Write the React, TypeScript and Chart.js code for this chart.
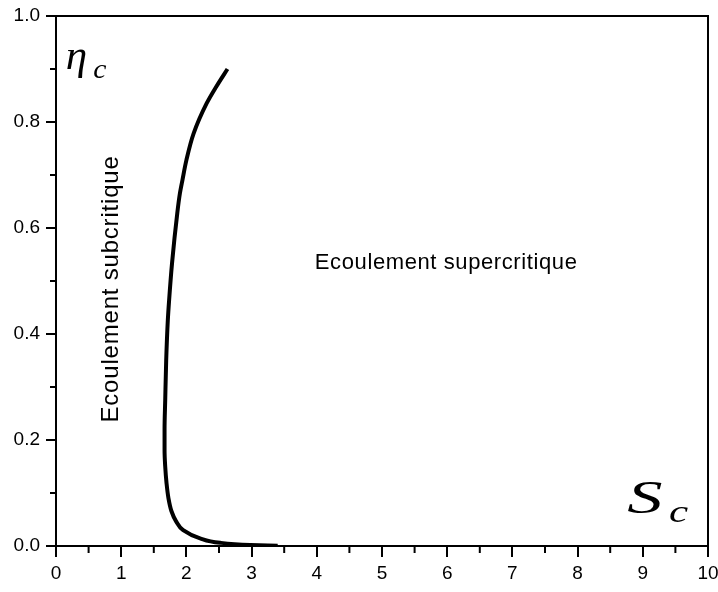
import React, { useEffect, useRef } from "react";
import { Chart, registerables } from "chart.js";

Chart.register(...registerables);

// Critical curve: S_c (x) against eta_c (y), listed from the tail near eta = 0 up to the top end.
const S_C = [3.4, 2.98, 2.52, 2.21, 1.95, 1.84, 1.77, 1.725, 1.695, 1.675, 1.665, 1.665, 1.675, 1.69, 1.715, 1.735, 1.78, 1.86, 1.9, 1.94, 2.0, 2.11, 2.31, 2.46, 2.63];
const ETA_C = [0.0005, 0.002, 0.006, 0.0145, 0.03, 0.047, 0.066, 0.09, 0.119, 0.15, 0.18, 0.22, 0.275, 0.35, 0.426, 0.464, 0.534, 0.628, 0.665, 0.691, 0.728, 0.778, 0.835, 0.867, 0.9];

const X_TICKS = [0, 1, 2, 3, 4, 5, 6, 7, 8, 9, 10];
const Y_TICKS = [0, 0.2, 0.4, 0.6, 0.8, 1.0];

const REGION_SUPER = "Ecoulement supercritique";
const REGION_SUB = "Ecoulement subcritique";

const SANS = "'Liberation Sans', Arial, sans-serif";
const SERIF = "'Liberation Serif', 'Times New Roman', serif";

const frameAndMinorTicks = {
  id: "frameAndMinorTicks",
  afterDraw(chart: any) {
    const { ctx, chartArea, scales } = chart;
    const x = scales.x;
    const y = scales.y;
    ctx.save();
    ctx.strokeStyle = "#000";
    ctx.lineWidth = 2;
    ctx.beginPath();
    // frame: top and right edges
    ctx.moveTo(chartArea.left, chartArea.top);
    ctx.lineTo(chartArea.right, chartArea.top);
    ctx.lineTo(chartArea.right, chartArea.bottom);
    ctx.stroke();
    ctx.beginPath();
    for (let i = 0; i < X_TICKS.length - 1; i++) {
      const px = x.getPixelForValue((X_TICKS[i] + X_TICKS[i + 1]) / 2);
      ctx.moveTo(px, chartArea.bottom);
      ctx.lineTo(px, chartArea.bottom + 7);
    }
    for (let i = 0; i < Y_TICKS.length - 1; i++) {
      const py = y.getPixelForValue((Y_TICKS[i] + Y_TICKS[i + 1]) / 2);
      ctx.moveTo(chartArea.left - 6, py);
      ctx.lineTo(chartArea.left, py);
    }
    ctx.stroke();
    ctx.restore();
  },
};

function stretchedText(ctx: any, text: string, px: number, py: number, sx: number) {
  ctx.save();
  ctx.translate(px, py);
  ctx.scale(sx, 1);
  ctx.fillText(text, 0, 0);
  ctx.restore();
}

const annotations = {
  id: "annotations",
  afterDraw(chart: any) {
    const { ctx, scales } = chart;
    const x = scales.x;
    const y = scales.y;
    ctx.save();
    ctx.fillStyle = "#000";
    ctx.textBaseline = "alphabetic";

    // region labels
    ctx.font = `22px ${SANS}`;
    ctx.textAlign = "left";
    (ctx as any).letterSpacing = "0.6px";
    ctx.fillText(REGION_SUPER, x.getPixelForValue(3.97), y.getPixelForValue(0.523));

    ctx.save();
    ctx.translate(x.getPixelForValue(0.95), y.getPixelForValue(0.485));
    ctx.rotate(-Math.PI / 2);
    ctx.font = `24px ${SANS}`;
    (ctx as any).letterSpacing = "0.8px";
    ctx.textAlign = "center";
    ctx.fillText(REGION_SUB, 0, 0);
    ctx.restore();

    (ctx as any).letterSpacing = "0px";
    ctx.textAlign = "left";

    // axis symbols
    ctx.font = `italic 41px ${SERIF}`;
    stretchedText(ctx, "η", x.getPixelForValue(0.15), y.getPixelForValue(0.9), 1.05);
    ctx.font = `italic 27px ${SERIF}`;
    stretchedText(ctx, "c", x.getPixelForValue(0.57), y.getPixelForValue(0.883), 1.1);

    ctx.font = `italic 47px ${SERIF}`;
    stretchedText(ctx, "S", x.getPixelForValue(8.76), y.getPixelForValue(0.062), 1.5);
    ctx.font = `italic 32px ${SERIF}`;
    stretchedText(ctx, "c", x.getPixelForValue(9.4), y.getPixelForValue(0.045), 1.35);
    ctx.restore();
  },
};

export default function App() {
  const canvasRef = useRef<HTMLCanvasElement | null>(null);

  useEffect(() => {
    if (!canvasRef.current) return;
    const points = S_C.map((s, i) => ({ x: s, y: ETA_C[i] }));
    const chart = new Chart(canvasRef.current, {
      type: "line",
      data: {
        datasets: [
          {
            data: points,
            indexAxis: "y",
            borderColor: "#000",
            borderWidth: 4,
            pointRadius: 0,
            cubicInterpolationMode: "monotone",
            fill: false,
          } as any,
        ],
      },
      options: {
        animation: false,
        responsive: false,
        devicePixelRatio: 1,
        layout: { padding: { top: 16, right: 10, left: 0, bottom: 0 } },
        plugins: { legend: { display: false }, tooltip: { enabled: false } },
        scales: {
          x: {
            type: "linear",
            position: "bottom",
            min: 0,
            max: 10,
            afterBuildTicks: (scale: any) => {
              scale.ticks = X_TICKS.map((v) => ({ value: v }));
            },
            afterFit: (scale: any) => {
              scale.height = 46;
              scale.paddingLeft = 0;
              scale.paddingRight = 0;
            },
            ticks: {
              color: "#000",
              font: { family: SANS, size: 19 },
              padding: 5,
              maxRotation: 0,
              autoSkip: false,
              callback: (v: any) => String(v),
            },
            grid: { drawOnChartArea: false, drawTicks: true, tickLength: 11, color: "#000", lineWidth: 2 },
            border: { display: true, color: "#000", width: 2 },
          },
          y: {
            type: "linear",
            position: "left",
            min: 0,
            max: 1,
            afterBuildTicks: (scale: any) => {
              scale.ticks = Y_TICKS.map((v) => ({ value: v }));
            },
            afterFit: (scale: any) => {
              scale.width = 56;
              scale.paddingTop = 0;
              scale.paddingBottom = 0;
            },
            ticks: {
              color: "#000",
              font: { family: SANS, size: 19 },
              padding: 6,
              autoSkip: false,
              callback: (v: any) => Number(v).toFixed(1),
            },
            grid: { drawOnChartArea: false, drawTicks: true, tickLength: 10, color: "#000", lineWidth: 2 },
            border: { display: true, color: "#000", width: 2 },
          },
        },
      },
      plugins: [frameAndMinorTicks, annotations],
    });
    return () => chart.destroy();
  }, []);

  return (
    <div style={{ position: "absolute", left: 0, top: 0, width: 718, height: 592, background: "#fff" }}>
      <canvas ref={canvasRef} width={718} height={592} style={{ display: "block" }} />
    </div>
  );
}
